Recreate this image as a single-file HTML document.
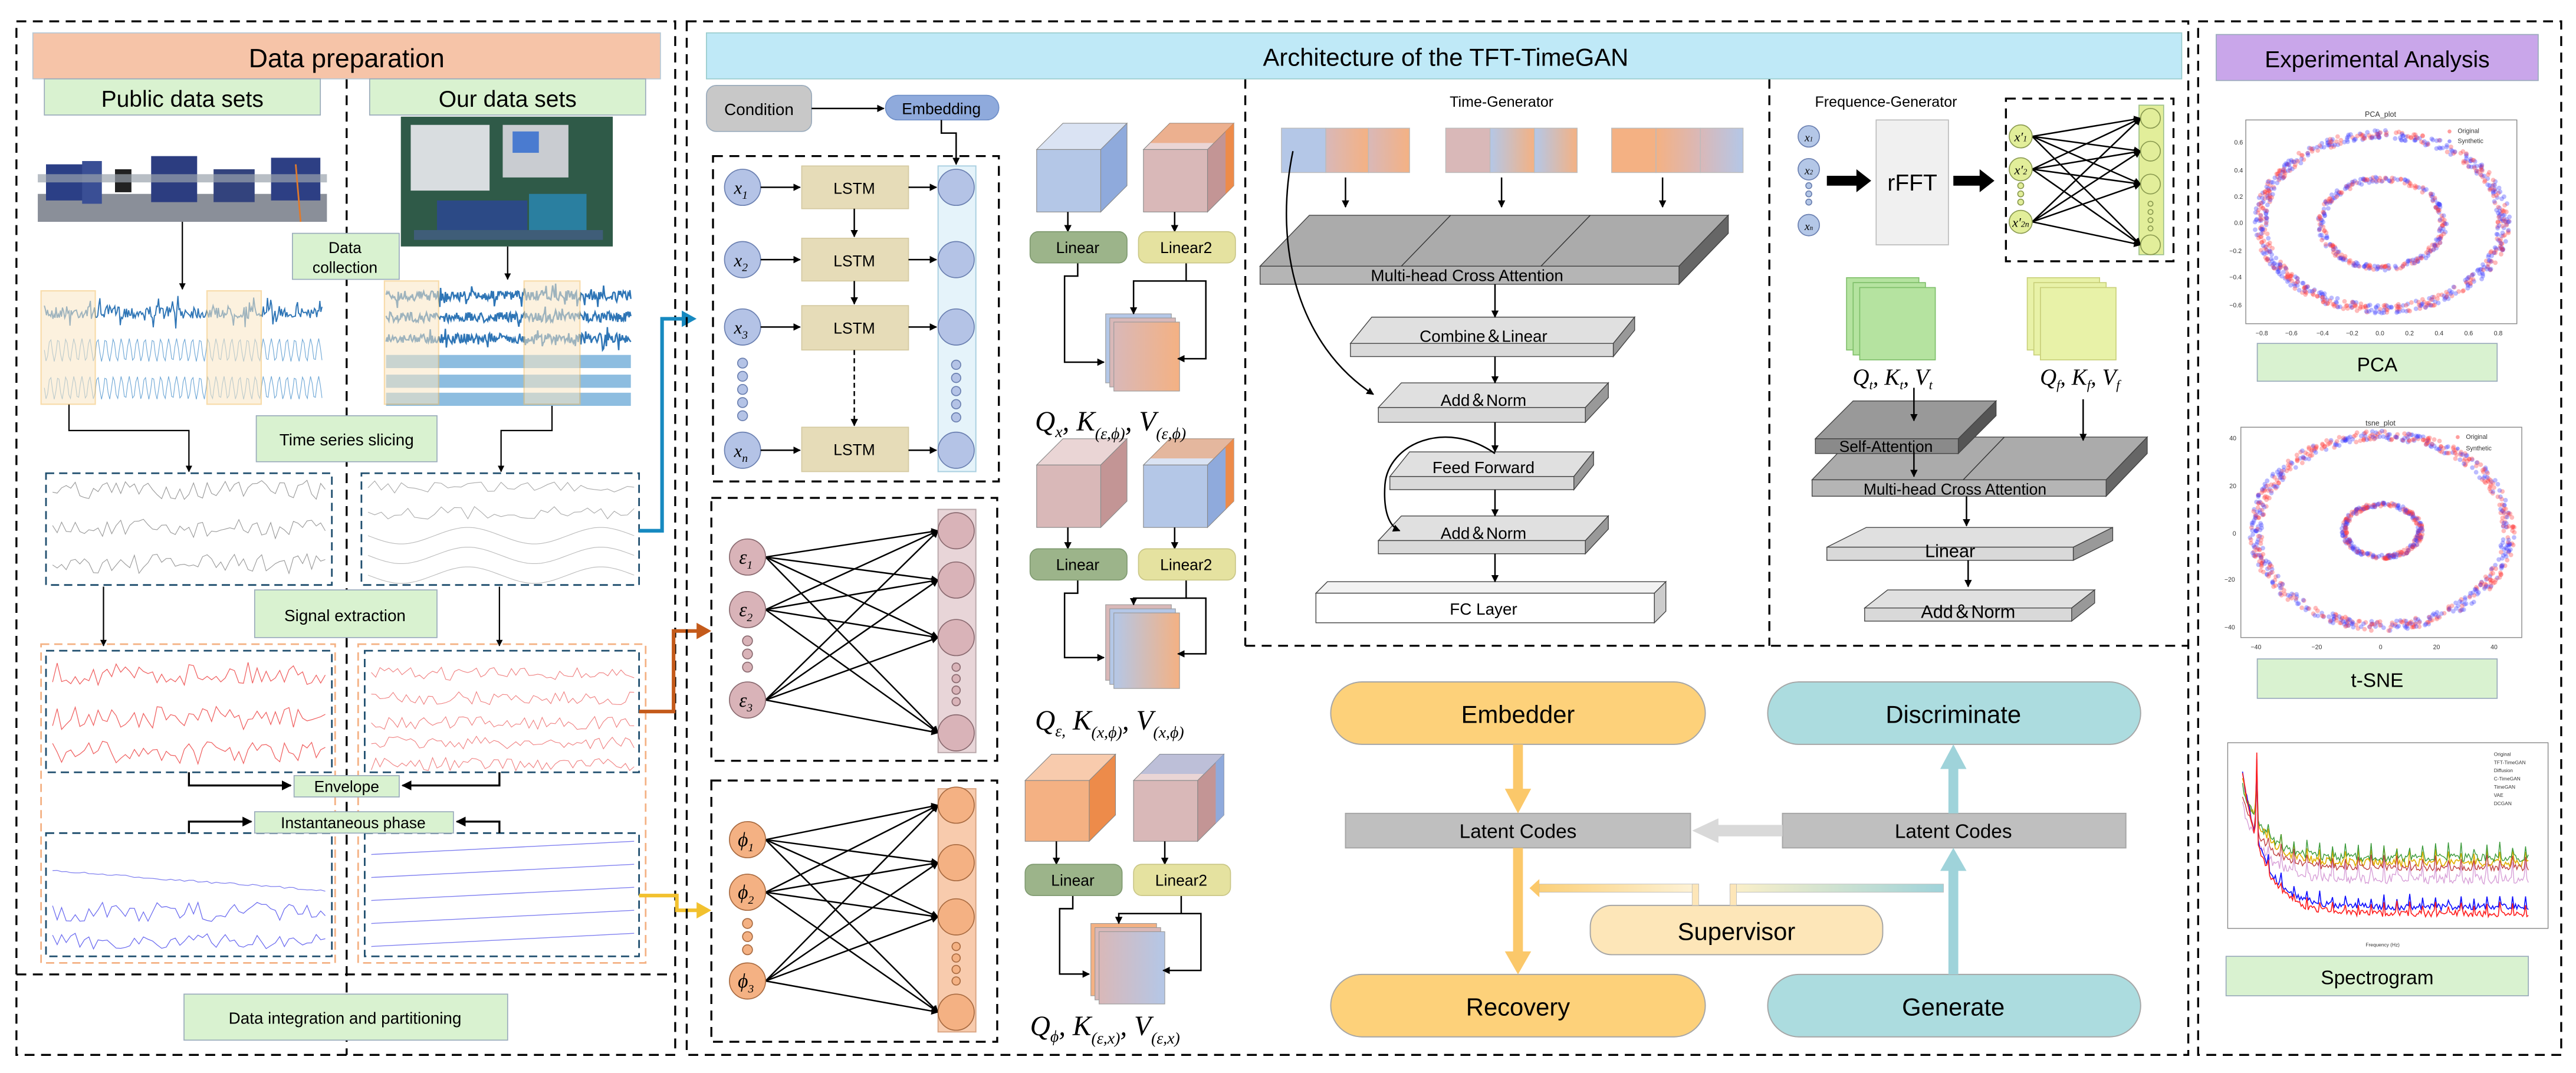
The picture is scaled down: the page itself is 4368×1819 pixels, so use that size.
<!DOCTYPE html>
<html><head><meta charset="utf-8"><style>
html,body{margin:0;padding:0;background:#fff;}
svg{display:block;}
text{font-family:"Liberation Sans",sans-serif;}
.m, .m text, .m tspan, text.m, text.m tspan{font-family:"Liberation Serif",serif;font-style:italic;}
</style></head><body>
<svg id="s" xmlns="http://www.w3.org/2000/svg" width="4368" height="1819" viewBox="0 0 1568 653" preserveAspectRatio="none">
<defs>
<marker id="a" viewBox="0 0 10 10" refX="9" refY="5" markerWidth="5" markerHeight="5" orient="auto-start-reverse"><path d="M0,0L10,5L0,10z" fill="#000"/></marker>
<linearGradient id="g1" x1="0" x2="1"><stop offset="0" stop-color="#d9b8b8"/><stop offset="1" stop-color="#f4b183"/></linearGradient>
<linearGradient id="g2" x1="0" x2="1"><stop offset="0" stop-color="#b4c7e7"/><stop offset="0.5" stop-color="#b4c7e7"/><stop offset="1" stop-color="#f4b183"/></linearGradient>
<linearGradient id="g3" x1="0" x2="1"><stop offset="0" stop-color="#d9b8b8"/><stop offset="1" stop-color="#b4c7e7"/></linearGradient>
<linearGradient id="g4" x1="0" x2="1"><stop offset="0" stop-color="#b4c7e7"/><stop offset="1" stop-color="#f4b183"/></linearGradient>
<linearGradient id="g5" x1="0" x2="1"><stop offset="0" stop-color="#f4b183"/><stop offset="1" stop-color="#d9b8b8"/></linearGradient>
<linearGradient id="g6" x1="0" x2="1"><stop offset="0" stop-color="#fbd07a"/><stop offset="1" stop-color="#fdf3d9"/></linearGradient>
<linearGradient id="g7" x1="0" x2="1"><stop offset="0" stop-color="#fdf0c8"/><stop offset="1" stop-color="#9fd3da"/></linearGradient>
</defs>
<rect width="1568" height="653" fill="#fff"/>

<g fill="none" stroke="#000" stroke-width="1.2" stroke-dasharray="6,4">
<rect x="10" y="13" width="401" height="629"/>
<line x1="211" y1="48" x2="211" y2="642"/>
<line x1="10" y1="593" x2="411" y2="593"/>
</g>
<rect x="20" y="20" width="382" height="28" fill="#f6c4a8" stroke="#b5c8d6" stroke-width="0.6"/>
<text x="211" y="41" font-size="16" text-anchor="middle">Data preparation</text>
<rect x="27" y="48" width="168" height="22" fill="#d9f2d0" stroke="#9ab" stroke-width="0.6"/>
<text x="111" y="65" font-size="14" text-anchor="middle">Public data sets</text>
<rect x="225" y="48" width="168" height="22" fill="#d9f2d0" stroke="#9ab" stroke-width="0.6"/>
<text x="309" y="65" font-size="14" text-anchor="middle">Our data sets</text>

<g>
<rect x="23" y="118" width="176" height="17" fill="#8a8f99"/>
<rect x="28" y="100" width="30" height="22" fill="#2b3f86"/>
<rect x="50" y="98" width="12" height="26" fill="#3a4f95"/>
<rect x="70" y="103" width="10" height="14" fill="#222"/>
<rect x="92" y="95" width="28" height="28" fill="#2c3d80"/>
<rect x="130" y="103" width="25" height="20" fill="#33437d"/>
<rect x="165" y="96" width="30" height="26" fill="#2d3f84"/>
<rect x="23" y="106" width="176" height="5" fill="#9aa3ad" opacity="0.7"/>
<line x1="180" y1="100" x2="183" y2="135" stroke="#e07a2c" stroke-width="1"/>
</g>
<g>
<rect x="244" y="71" width="129" height="79" fill="#2f5a48"/>
<rect x="250" y="76" width="48" height="40" fill="#d9dde0"/>
<rect x="306" y="76" width="40" height="32" fill="#c9ccd1"/>
<rect x="312" y="80" width="16" height="13" fill="#4a7bd0"/>
<rect x="266" y="122" width="55" height="20" fill="#2c4a86"/>
<rect x="322" y="118" width="35" height="26" fill="#2a7fa0"/>
<rect x="252" y="140" width="115" height="6" fill="#3f5d78"/>
</g>
<rect x="178" y="142" width="65" height="28" fill="#d9f2d0" stroke="#9ab" stroke-width="0.6"/>
<text x="210" y="154" font-size="9.5" text-anchor="middle">Data</text>
<text x="210" y="166" font-size="9.5" text-anchor="middle">collection</text>

<g stroke="#000" stroke-width="0.8" fill="none" marker-end="url(#a)">
<line x1="111" y1="135" x2="111" y2="176"/>
<line x1="309" y1="150" x2="309" y2="170"/>
<polyline points="42,246 42,262 115,262 115,287"/>
<polyline points="336,246 336,262 305,262 305,287"/>
<line x1="63" y1="357" x2="63" y2="393"/>
<line x1="304" y1="357" x2="304" y2="393"/>
</g>
<g id="sig1"></g>
<rect x="25" y="177" width="33" height="69" fill="#fbe7c4" opacity="0.55" stroke="#f4c068" stroke-width="0.8"/>
<rect x="126" y="177" width="33" height="69" fill="#fbe7c4" opacity="0.55" stroke="#f4c068" stroke-width="0.8"/>
<rect x="234" y="171" width="33" height="75" fill="#fbe7c4" opacity="0.55" stroke="#f4c068" stroke-width="0.8"/>
<rect x="319" y="171" width="34" height="75" fill="#fbe7c4" opacity="0.55" stroke="#f4c068" stroke-width="0.8"/>

<rect x="156" y="253" width="110" height="28" fill="#d9f2d0" stroke="#9ab" stroke-width="0.6"/>
<text x="211" y="271" font-size="10" text-anchor="middle">Time series slicing</text>

<g fill="none" stroke="#1f4e6e" stroke-width="1" stroke-dasharray="5,3">
<rect x="28" y="288" width="174" height="68"/>
<rect x="220" y="288" width="169" height="68"/>
<rect x="28" y="396" width="174" height="74"/>
<rect x="222" y="396" width="167" height="74"/>
<rect x="28" y="507" width="174" height="75"/>
<rect x="222" y="507" width="167" height="75"/>
</g>
<g fill="none" stroke="#f4b183" stroke-width="1" stroke-dasharray="5,3">
<rect x="25" y="392" width="179" height="194"/>
<rect x="218" y="392" width="175" height="194"/>
</g>
<g id="sig2"></g>

<rect x="155" y="359" width="111" height="29" fill="#d9f2d0" stroke="#9ab" stroke-width="0.6"/>
<text x="210" y="378" font-size="10" text-anchor="middle">Signal extraction</text>
<g stroke="#000" stroke-width="1.2" fill="none" marker-end="url(#a)">
<polyline points="115,470 115,478 177,478"/>
<polyline points="304,470 304,478 245,478"/>
<polyline points="115,507 115,500 153,500"/>
<polyline points="304,507 304,500 278,500"/>
</g>
<rect x="179" y="472" width="64" height="13" fill="#d9f2d0" stroke="#9ab" stroke-width="0.6"/>
<text x="211" y="482" font-size="9.5" text-anchor="middle">Envelope</text>
<rect x="155" y="494" width="121" height="13" fill="#d9f2d0" stroke="#9ab" stroke-width="0.6"/>
<text x="215" y="504" font-size="9.5" text-anchor="middle">Instantaneous phase</text>

<rect x="112" y="605" width="197" height="28" fill="#d9f2d0" stroke="#9ab" stroke-width="0.6"/>
<text x="210" y="623" font-size="10" text-anchor="middle">Data integration and partitioning</text>

<polyline points="389,323 403,323 403,194 417,194" fill="none" stroke="#1689c0" stroke-width="2.2"/>
<path d="M415,189 L424,194 L415,199z" fill="#1689c0"/>
<polyline points="389,433 410,433 410,384 426,384" fill="none" stroke="#c45a1a" stroke-width="2.2"/>
<path d="M424,379 L433,384 L424,389z" fill="#c45a1a"/>
<polyline points="389,545 412,545 412,554 426,554" fill="none" stroke="#f2c12e" stroke-width="2.2"/>
<path d="M424,549 L433,554 L424,559z" fill="#f2c12e"/>

<g fill="none" stroke="#000" stroke-width="1.2" stroke-dasharray="6,4">
<rect x="418" y="13" width="914" height="629"/>
<line x1="758" y1="48" x2="758" y2="393"/>
<line x1="1077" y1="48" x2="1077" y2="393"/>
<line x1="758" y1="393" x2="1332" y2="393"/>
<rect x="434" y="95" width="174" height="198"/>
<rect x="433" y="303" width="174" height="160"/>
<rect x="433" y="475" width="174" height="159"/>
<rect x="1221" y="60" width="102" height="99"/>
</g>
<rect x="430" y="20" width="898" height="28" fill="#bfe9f7" stroke="#9cc" stroke-width="0.6"/>
<text x="880" y="40" font-size="15" text-anchor="middle">Architecture of the TFT-TimeGAN</text>

<rect x="430" y="52" width="64" height="28" rx="6" fill="#c8c8c8" stroke="#9ab" stroke-width="0.6"/>
<text x="462" y="70" font-size="10" text-anchor="middle">Condition</text>
<rect x="539" y="58" width="69" height="15" rx="7.5" fill="#8faadc" stroke="#6f8fc8" stroke-width="0.6"/>
<text x="573" y="69.5" font-size="9.5" text-anchor="middle">Embedding</text>
<g stroke="#000" stroke-width="0.9" fill="none" marker-end="url(#a)">
<line x1="494" y1="66" x2="538" y2="66"/>
<polyline points="573,73 573,81 582,81 582,100"/>
</g>

<rect x="571" y="101" width="23" height="186" fill="#e5f3fa" stroke="#a9cfe0" stroke-width="0.7"/>
<g fill="#b4c3e6" stroke="#6a7fb0" stroke-width="0.6">
<circle cx="582" cy="114" r="11"/><circle cx="582" cy="158" r="11"/><circle cx="582" cy="199" r="11"/><circle cx="582" cy="274" r="11"/>
<circle cx="452" cy="114" r="11"/><circle cx="452" cy="158" r="11"/><circle cx="452" cy="199" r="11"/><circle cx="452" cy="274" r="11"/>
<circle cx="452" cy="221" r="3"/><circle cx="452" cy="229" r="3"/><circle cx="452" cy="237" r="3"/><circle cx="452" cy="245" r="3"/><circle cx="452" cy="253" r="3"/>
<circle cx="582" cy="222" r="2.8"/><circle cx="582" cy="230" r="2.8"/><circle cx="582" cy="238" r="2.8"/><circle cx="582" cy="246" r="2.8"/><circle cx="582" cy="254" r="2.8"/>
</g>
<g font-size="11" class="m" text-anchor="middle">
<text x="451" y="118" class="m">x<tspan font-size="7" dy="3">1</tspan></text>
<text x="451" y="162" class="m">x<tspan font-size="7" dy="3">2</tspan></text>
<text x="451" y="203" class="m">x<tspan font-size="7" dy="3">3</tspan></text>
<text x="451" y="278" class="m">x<tspan font-size="7" dy="3">n</tspan></text>
</g>
<g fill="#e6dcb8" stroke="#d4c9a0" stroke-width="0.6">
<rect x="488" y="101" width="65" height="26"/><rect x="488" y="145" width="65" height="26"/><rect x="488" y="186" width="65" height="27"/><rect x="488" y="260" width="65" height="27"/>
</g>
<g font-size="9.5" text-anchor="middle">
<text x="520" y="118">LSTM</text><text x="520" y="162">LSTM</text><text x="520" y="203">LSTM</text><text x="520" y="277">LSTM</text>
</g>
<g stroke="#000" stroke-width="0.9" fill="none" marker-end="url(#a)">
<line x1="463" y1="114" x2="487" y2="114"/><line x1="463" y1="158" x2="487" y2="158"/><line x1="463" y1="199" x2="487" y2="199"/><line x1="463" y1="274" x2="487" y2="274"/>
<line x1="553" y1="114" x2="570" y2="114"/><line x1="553" y1="158" x2="570" y2="158"/><line x1="553" y1="199" x2="570" y2="199"/><line x1="553" y1="274" x2="570" y2="274"/>
<line x1="520" y1="127" x2="520" y2="144"/><line x1="520" y1="171" x2="520" y2="185"/>
<line x1="520" y1="213" x2="520" y2="259" stroke-dasharray="3,2"/>
</g>

<rect x="571" y="310" width="23" height="148" fill="#e8d5d8" stroke="#b9a8ab" stroke-width="0.7"/>
<rect x="571" y="480" width="23" height="148" fill="#f8cbad" stroke="#d9a583" stroke-width="0.7"/>
<g id="nn"></g>
<g fill="#d9b3b8" stroke="#8a6a70" stroke-width="0.6">
<circle cx="455" cy="339" r="11"/><circle cx="455" cy="371" r="11"/><circle cx="455" cy="426" r="11"/>
<circle cx="455" cy="390" r="3"/><circle cx="455" cy="398" r="3"/><circle cx="455" cy="406" r="3"/>
<circle cx="582" cy="323" r="11"/><circle cx="582" cy="353" r="11"/><circle cx="582" cy="388" r="11"/><circle cx="582" cy="446" r="11"/>
<circle cx="582" cy="406" r="2.5"/><circle cx="582" cy="413" r="2.5"/><circle cx="582" cy="420" r="2.5"/><circle cx="582" cy="427" r="2.5"/>
</g>
<g fill="#f4b183" stroke="#a86a40" stroke-width="0.6">
<circle cx="455" cy="511" r="11"/><circle cx="455" cy="543" r="11"/><circle cx="455" cy="597" r="11"/>
<circle cx="455" cy="562" r="3"/><circle cx="455" cy="570" r="3"/><circle cx="455" cy="578" r="3"/>
<circle cx="582" cy="490" r="11"/><circle cx="582" cy="525" r="11"/><circle cx="582" cy="558" r="11"/><circle cx="582" cy="616" r="11"/>
<circle cx="582" cy="576" r="2.5"/><circle cx="582" cy="583" r="2.5"/><circle cx="582" cy="590" r="2.5"/><circle cx="582" cy="597" r="2.5"/>
</g>
<g font-size="12" text-anchor="middle" class="m">
<text x="454" y="343" class="m">ε<tspan font-size="7" dy="3">1</tspan></text>
<text x="454" y="375" class="m">ε<tspan font-size="7" dy="3">2</tspan></text>
<text x="454" y="430" class="m">ε<tspan font-size="7" dy="3">3</tspan></text>
<text x="454" y="515" class="m">ϕ<tspan font-size="7" dy="3">1</tspan></text>
<text x="454" y="547" class="m">ϕ<tspan font-size="7" dy="3">2</tspan></text>
<text x="454" y="601" class="m">ϕ<tspan font-size="7" dy="3">3</tspan></text>
</g>

<g id="cubes"></g>
<g font-size="9.5" text-anchor="middle">
<rect x="627" y="141" width="59" height="19" rx="5" fill="#9cb48a" stroke="#7f9a70" stroke-width="0.6"/><text x="656" y="154">Linear</text>
<rect x="693" y="141" width="59" height="19" rx="5" fill="#e5e2a0" stroke="#c9c686" stroke-width="0.6"/><text x="722" y="154">Linear2</text>
<rect x="627" y="334" width="59" height="19" rx="5" fill="#9cb48a" stroke="#7f9a70" stroke-width="0.6"/><text x="656" y="347">Linear</text>
<rect x="693" y="334" width="59" height="19" rx="5" fill="#e5e2a0" stroke="#c9c686" stroke-width="0.6"/><text x="722" y="347">Linear2</text>
<rect x="624" y="526" width="59" height="19" rx="5" fill="#9cb48a" stroke="#7f9a70" stroke-width="0.6"/><text x="653" y="539">Linear</text>
<rect x="690" y="526" width="59" height="19" rx="5" fill="#e5e2a0" stroke="#c9c686" stroke-width="0.6"/><text x="719" y="539">Linear2</text>
</g>
<g font-size="17" class="m">
<text x="630" y="262" class="m">Q<tspan font-size="10" dy="4">x</tspan><tspan dy="-4">, K</tspan><tspan font-size="10" dy="5">(ε,ϕ)</tspan><tspan dy="-5">, V</tspan><tspan font-size="10" dy="5">(ε,ϕ)</tspan></text>
<text x="630" y="444" class="m">Q<tspan font-size="10" dy="4">ε,</tspan><tspan dy="-4"> K</tspan><tspan font-size="10" dy="5">(x,ϕ)</tspan><tspan dy="-5">, V</tspan><tspan font-size="10" dy="5">(x,ϕ)</tspan></text>
<text x="627" y="630" class="m">Q<tspan font-size="10" dy="4">ϕ</tspan><tspan dy="-4">, K</tspan><tspan font-size="10" dy="5">(ε,x)</tspan><tspan dy="-5">, V</tspan><tspan font-size="10" dy="5">(ε,x)</tspan></text>
</g>

<text x="914" y="65" font-size="9" text-anchor="middle">Time-Generator</text>
<g stroke="#bbb" stroke-width="0.5">
<rect x="780" y="78" width="27" height="27" fill="#b4c7e7"/><rect x="807" y="78" width="26" height="27" fill="url(#g1)"/><rect x="833" y="78" width="25" height="27" fill="url(#g1)"/>
<rect x="880" y="78" width="27" height="27" fill="#d9b8b8"/><rect x="907" y="78" width="27" height="27" fill="url(#g4)"/><rect x="934" y="78" width="26" height="27" fill="url(#g4)"/>
<rect x="981" y="78" width="27" height="27" fill="#f4b183"/><rect x="1008" y="78" width="27" height="27" fill="url(#g5)"/><rect x="1035" y="78" width="26" height="27" fill="url(#g3)"/>
</g>
<g id="slabs"></g>
<g stroke="#000" stroke-width="0.9" fill="none" marker-end="url(#a)">
<line x1="819" y1="108" x2="819" y2="126"/><line x1="914" y1="108" x2="914" y2="126"/><line x1="1012" y1="108" x2="1012" y2="126"/>
<line x1="910" y1="173" x2="910" y2="193"/>
<line x1="910" y1="217" x2="910" y2="233"/>
<line x1="910" y1="257" x2="910" y2="275"/>
<line x1="910" y1="298" x2="910" y2="314"/>
<line x1="910" y1="337" x2="910" y2="354"/>
<path d="M787,92 C775,150 790,210 836,240"/>
<path d="M910,276 C880,255 845,270 843,295 C842,310 845,320 852,323"/>
</g>
<g font-size="10" text-anchor="middle">
<text x="893" y="171">Multi-head Cross Attention</text>
<text x="903" y="208">Combine＆Linear</text>
<text x="903" y="247">Add＆Norm</text>
<text x="903" y="288">Feed Forward</text>
<text x="903" y="328">Add＆Norm</text>
<text x="903" y="374">FC Layer</text>
</g>

<text x="1148" y="65" font-size="9" text-anchor="middle">Frequence-Generator</text>
<g fill="#b4c7e7" stroke="#6a7fb0" stroke-width="0.6">
<circle cx="1101" cy="83" r="6.5"/><circle cx="1101" cy="103" r="6.5"/><circle cx="1101" cy="137" r="6.5"/>
<circle cx="1101" cy="113" r="1.8"/><circle cx="1101" cy="118" r="1.8"/><circle cx="1101" cy="123" r="1.8"/>
</g>
<g font-size="7" class="m" text-anchor="middle">
<text x="1101" y="86" class="m">x<tspan font-size="4">1</tspan></text><text x="1101" y="106" class="m">x<tspan font-size="4">2</tspan></text><text x="1101" y="140" class="m">x<tspan font-size="4">n</tspan></text>
</g>
<rect x="1142" y="73" width="44" height="76" fill="#f0f0f0" stroke="#bbb" stroke-width="0.6"/>
<text x="1164" y="116" font-size="14" text-anchor="middle">rFFT</text>
<path d="M1112,107 L1130,107 L1130,103 L1139,110 L1130,117 L1130,113 L1112,113z" fill="#000"/>
<path d="M1189,107 L1205,107 L1205,103 L1214,110 L1205,117 L1205,113 L1189,113z" fill="#000"/>
<rect x="1302" y="64" width="15" height="91" fill="#e2ee9a" stroke="#9cbf8a" stroke-width="0.6"/>
<g id="fnn"></g>
<g fill="#e2ee9a" stroke="#8a9a50" stroke-width="0.6">
<circle cx="1230" cy="83" r="7"/><circle cx="1230" cy="103" r="7"/><circle cx="1230" cy="135" r="7"/>
<circle cx="1230" cy="113" r="1.8"/><circle cx="1230" cy="118" r="1.8"/><circle cx="1230" cy="123" r="1.8"/>
<circle cx="1309" cy="72" r="6"/><circle cx="1309" cy="92" r="6"/><circle cx="1309" cy="112" r="6"/><circle cx="1309" cy="149" r="6"/>
<circle cx="1309" cy="124" r="1.5"/><circle cx="1309" cy="129" r="1.5"/><circle cx="1309" cy="134" r="1.5"/><circle cx="1309" cy="139" r="1.5"/>
</g>
<g font-size="8" class="m" text-anchor="middle">
<text x="1230" y="86" class="m">x′<tspan font-size="5">1</tspan></text><text x="1230" y="106" class="m">x′<tspan font-size="5">2</tspan></text><text x="1230" y="138" class="m">x′<tspan font-size="5">2n</tspan></text>
</g>
<g stroke="#7fbf6a" stroke-width="0.6" fill="#b5e3a0">
<rect x="1124" y="169" width="44" height="44"/><rect x="1128" y="172" width="44" height="44"/><rect x="1132" y="175" width="46" height="44"/>
</g>
<g stroke="#c9d07a" stroke-width="0.6" fill="#e8f2a8">
<rect x="1234" y="169" width="44" height="44"/><rect x="1238" y="172" width="44" height="44"/><rect x="1242" y="175" width="46" height="44"/>
</g>
<g font-size="14" class="m" text-anchor="middle">
<text x="1152" y="234" class="m">Q<tspan font-size="8" dy="3">t</tspan><tspan dy="-3">, K</tspan><tspan font-size="8" dy="3">t</tspan><tspan dy="-3">, V</tspan><tspan font-size="8" dy="3">t</tspan></text>
<text x="1266" y="234" class="m">Q<tspan font-size="8" dy="3">f</tspan><tspan dy="-3">, K</tspan><tspan font-size="8" dy="3">f</tspan><tspan dy="-3">, V</tspan><tspan font-size="8" dy="3">f</tspan></text>
</g>
<g stroke="#000" stroke-width="0.9" fill="none" marker-end="url(#a)">
<line x1="1165" y1="236" x2="1165" y2="256"/>
<line x1="1268" y1="243" x2="1268" y2="268"/>
<line x1="1165" y1="275" x2="1165" y2="290"/>
<line x1="1197" y1="302" x2="1197" y2="320"/>
<line x1="1198" y1="341" x2="1198" y2="357"/>
</g>
<g font-size="9.5" text-anchor="middle">
<text x="1148" y="275">Self-Attention</text>
<text x="1190" y="301">Multi-head Cross Attention</text>
<text x="1187" y="339" font-size="11">Linear</text>
<text x="1198" y="376" font-size="11">Add＆Norm</text>
</g>

<g stroke="#a6a6a6" stroke-width="0.7">
<rect x="810" y="415" width="228" height="38" rx="19" fill="#fdd17a"/>
<rect x="1076" y="415" width="227" height="38" rx="19" fill="#acdcdf"/>
<rect x="810" y="593" width="228" height="38" rx="19" fill="#fdd17a"/>
<rect x="1076" y="593" width="227" height="38" rx="19" fill="#acdcdf"/>
<rect x="968" y="551" width="178" height="30" rx="13" fill="#fde6b8"/>
<rect x="819" y="495" width="210" height="21" fill="#bfbfbf"/>
<rect x="1085" y="495" width="209" height="21" fill="#bfbfbf"/>
</g>
<rect x="921" y="453" width="6" height="30" fill="#fbc86a"/><path d="M916,480 L932,480 L924,495z" fill="#fbc86a"/>
<rect x="921" y="516" width="6" height="66" fill="#fbc86a"/><path d="M916,579 L932,579 L924,593z" fill="#fbc86a"/>
<rect x="1186" y="466" width="6" height="29" fill="#9fd3da"/><path d="M1181,468 L1197,468 L1189,453z" fill="#9fd3da"/>
<rect x="1186" y="528" width="6" height="65" fill="#9fd3da"/><path d="M1181,530 L1197,530 L1189,516z" fill="#9fd3da"/>
<path d="M1085,502 L1046,502 L1046,498 L1030,505.5 L1046,513 L1046,509 L1085,509z" fill="#d9d9d9"/>
<rect x="1053" y="538" width="130" height="5" fill="url(#g7)" stroke="#bbb" stroke-width="0.3"/>
<rect x="1053" y="538" width="4" height="13" fill="#fde6b8" stroke="#bbb" stroke-width="0.3"/>
<rect x="937" y="538" width="97" height="5" fill="url(#g6)" stroke="#bbb" stroke-width="0.3"/>
<rect x="1030" y="538" width="4" height="13" fill="#fde6b8" stroke="#bbb" stroke-width="0.3"/>
<path d="M937,535 L931,540.5 L937,546z" fill="#fbc86a"/>
<g text-anchor="middle">
<text x="924" y="440" font-size="15">Embedder</text>
<text x="1189" y="440" font-size="15">Discriminate</text>
<text x="924" y="618" font-size="15">Recovery</text>
<text x="1189" y="618" font-size="15">Generate</text>
<text x="1057" y="572" font-size="15">Supervisor</text>
<text x="924" y="510" font-size="12">Latent Codes</text>
<text x="1189" y="510" font-size="12">Latent Codes</text>
</g>

<rect x="1338" y="13" width="221" height="629" fill="none" stroke="#000" stroke-width="1.2" stroke-dasharray="6,4"/>
<rect x="1349" y="21" width="196" height="28" fill="#c9a6ea" stroke="#9ab" stroke-width="0.6"/>
<text x="1447" y="41" font-size="14" text-anchor="middle">Experimental Analysis</text>
<g font-size="3.5" fill="#333">
<text x="1449" y="71" text-anchor="middle" font-size="4.5">PCA_plot</text>
<text x="1449" y="259" text-anchor="middle" font-size="4.5">tsne_plot</text>
</g>
<rect x="1367" y="73" width="165" height="124" fill="#fff" stroke="#888" stroke-width="0.5"/>
<rect x="1364" y="260" width="171" height="128" fill="#fff" stroke="#888" stroke-width="0.5"/>
<g id="sc"></g>
<g font-size="3.8" fill="#333">
<text x="1496" y="81">Original</text><text x="1496" y="87">Synthetic</text>
<text x="1501" y="267">Original</text><text x="1501" y="274">Synthetic</text>
<text x="1360" y="88">0.6</text><text x="1360" y="105">0.4</text><text x="1360" y="121">0.2</text><text x="1360" y="137">0.0</text><text x="1357" y="154">−0.2</text><text x="1357" y="170">−0.4</text><text x="1357" y="187">−0.6</text>
<text x="1373" y="204">−0.8</text><text x="1391" y="204">−0.6</text><text x="1410" y="204">−0.4</text><text x="1428" y="204">−0.2</text><text x="1446" y="204">0.0</text><text x="1464" y="204">0.2</text><text x="1482" y="204">0.4</text><text x="1500" y="204">0.6</text><text x="1518" y="204">0.8</text>
<text x="1357" y="268">40</text><text x="1357" y="297">20</text><text x="1359" y="326">0</text><text x="1354" y="354">−20</text><text x="1354" y="383">−40</text>
<text x="1370" y="395">−40</text><text x="1407" y="395">−20</text><text x="1448" y="395">0</text><text x="1481" y="395">20</text><text x="1516" y="395">40</text>
</g>
<rect x="1374" y="209" width="146" height="23" fill="#d9f2d0" stroke="#9ab" stroke-width="0.6"/>
<text x="1447" y="226" font-size="12" text-anchor="middle">PCA</text>
<rect x="1374" y="401" width="146" height="24" fill="#d9f2d0" stroke="#9ab" stroke-width="0.6"/>
<text x="1447" y="418" font-size="12" text-anchor="middle">t-SNE</text>
<rect x="1356" y="452" width="195" height="113" fill="#fff" stroke="#888" stroke-width="0.5"/>
<g id="spec"></g>
<g font-size="3" fill="#333">
<text x="1518" y="460">Original</text><text x="1518" y="465">TFT-TimeGAN</text><text x="1518" y="470">Diffusion</text><text x="1518" y="475">C-TimeGAN</text><text x="1518" y="480">TimeGAN</text><text x="1518" y="485">VAE</text><text x="1518" y="490">DCGAN</text>
<text x="1440" y="576">Frequency (Hz)</text>
</g>
<rect x="1355" y="582" width="184" height="24" fill="#d9f2d0" stroke="#9ab" stroke-width="0.6"/>
<text x="1447" y="599" font-size="12" text-anchor="middle">Spectrogram</text>
</svg>
<script>
(function(){
var NS="http://www.w3.org/2000/svg";
function el(p,tag,at){var e=document.createElementNS(NS,tag);for(var k in at)e.setAttribute(k,at[k]);p.appendChild(e);return e;}
var seed=7;function r(){seed=(seed*16807)%2147483647;return seed/2147483647;}
function wave(g,x0,x1,y,amp,col,n,type,sw){var pts=[];for(var i=0;i<=n;i++){var x=x0+(x1-x0)*i/n,v;
 if(type==0)v=(r()-0.5)*2*amp*(r()<0.1?2.5:1);
 else if(type==1)v=Math.sin(i*1.3)*amp;
 else if(type==2)v=Math.sin(i/n*Math.PI*4)*amp;
 else if(type==3)v=-i/n*amp+(r()-0.5)*1.2;
 else v=(r()-0.5)*2*amp;
 pts.push(x.toFixed(1)+","+(y+v).toFixed(1));}
 el(g,"polyline",{points:pts.join(" "),fill:"none",stroke:col,"stroke-width":sw||0.5});}
var g1=document.getElementById("sig1");
wave(g1,27,196,190,4,"#2e75b6",260,0,0.7);
wave(g1,27,196,213,7,"#6ea7d6",170,1,0.4);
wave(g1,27,196,236,7,"#6ea7d6",170,1,0.4);
[180,193,206].forEach(function(y){wave(g1,235,384,y,3,"#2e75b6",260,0,0.9);});
[220,232,243].forEach(function(y){el(g1,"rect",{x:235,y:y-4,width:149,height:8,fill:"#8dbde0"});});
var g2=document.getElementById("sig2");
[298,322,343].forEach(function(y){wave(g2,32,198,y,6,"#999",60,4,0.4);});
wave(g2,224,386,296,4,"#aaa",40,4,0.4);wave(g2,224,386,312,4,"#aaa",40,4,0.4);
[326,338,350].forEach(function(y){wave(g2,224,386,y,5,"#bbb",60,2,0.4);});
[410,437,458].forEach(function(y){wave(g2,32,198,y,7,"#f06060",60,4,0.45);});
[410,425,440,452,465].forEach(function(y){wave(g2,226,386,y,4,"#f08080",60,4,0.4);});
wave(g2,32,198,530,-12,"#8080f0",60,3,0.45);wave(g2,32,198,555,6,"#6a6af0",60,4,0.45);wave(g2,32,198,573,5,"#6a6af0",60,4,0.45);
[520,534,548,562,576].forEach(function(y){el(g2,"line",{x1:226,y1:y,x2:386,y2:y-8,stroke:"#8080f0","stroke-width":0.5});});
var nn=document.getElementById("nn");
function net(g,L,R,xl,xr){L.forEach(function(a){R.forEach(function(b){el(g,"line",{x1:xl,y1:a,x2:xr,y2:b,stroke:"#000","stroke-width":0.9,"marker-end":"url(#a)"});});});}
net(nn,[339,371,426],[323,353,388,446],466,571);
net(nn,[511,543,597],[490,525,558,616],466,571);
net(document.getElementById("fnn"),[83,103,135],[72,92,112,149],1237,1303);
var cg=document.getElementById("cubes");
function cube(x,y,w,h,d,f,t,s,extra){
 el(cg,"polygon",{points:[x,y,x+d,y-d,x+w+d,y-d,x+w,y].join(","),fill:t,stroke:"#888","stroke-width":0.4});
 el(cg,"polygon",{points:[x+w,y,x+w+d,y-d,x+w+d,y+h-d,x+w,y+h].join(","),fill:s,stroke:"#888","stroke-width":0.4});
 el(cg,"rect",{x:x,y:y,width:w,height:h,fill:f,stroke:"#888","stroke-width":0.4});
 if(extra){el(cg,"polygon",{points:[x+w+d-5,y-d+5,x+w+d,y-d,x+w+d,y+h-d,x+w+d-5,y+h-d+5].join(","),fill:extra});
  el(cg,"polygon",{points:[x+4,y-4,x+d,y-d,x+w+d,y-d,x+w+4,y-4].join(","),fill:extra,opacity:0.5});}
}
cube(631,91,39,38,16,"#b4c7e7","#dae3f3","#8faadc");
cube(696,91,39,38,16,"#d9b8b8","#ead5d5","#c39595","#ed8b4a");
cube(631,283,39,38,16,"#d9b8b8","#ead5d5","#c39595");
cube(696,283,39,38,16,"#b4c7e7","#dae3f3","#8faadc","#ed8b4a");
cube(624,475,39,37,16,"#f4b183","#f8cbad","#ed8b4a");
cube(690,475,39,37,16,"#d9b8b8","#ead5d5","#c39595","#8faadc");
function stack(x,y,w,h,fills){for(var i=0;i<3;i++)el(cg,"rect",{x:x+i*2.5,y:y+i*2.5,width:w,height:h,fill:fills[i],stroke:"#999","stroke-width":0.4});}
stack(673,191,40,42,["#b4c7e7","#d9b8b8","url(#g1)"]);
stack(673,368,40,46,["#d9b8b8","#b4c7e7","url(#g4)"]);
stack(664,562,40,44,["#f4b183","#d9b8b8","url(#g3)"]);
function conn(lx,l2x,ly,sy,stx,sty,sw,sh){
 el(cg,"polyline",{points:[lx,ly,lx,ly+8,lx-8,ly+8,lx-8,sty+sh*0.7,stx,sty+sh*0.7].join(","),fill:"none",stroke:"#000","stroke-width":0.9,"marker-end":"url(#a)"});
 el(cg,"polyline",{points:[l2x,ly,l2x,ly+11,stx+sw*0.45,ly+11,stx+sw*0.45,sty].join(","),fill:"none",stroke:"#000","stroke-width":0.9,"marker-end":"url(#a)"});
 el(cg,"polyline",{points:[l2x,ly+11,l2x+12,ly+11,l2x+12,sty+sh*0.65,stx+sw+5,sty+sh*0.65].join(","),fill:"none",stroke:"#000","stroke-width":0.9,"marker-end":"url(#a)"});
}
conn(656,722,160,0,672,191,40,42);
conn(656,722,353,0,672,368,40,46);
conn(653,719,545,0,663,562,40,44);
[[650,129,141],[715,129,141],[650,321,334],[715,321,334],[643,512,526],[709,512,526]].forEach(function(a){el(cg,"line",{x1:a[0],y1:a[1],x2:a[0],y2:a[2],stroke:"#000","stroke-width":0.9,"marker-end":"url(#a)"});});
var sg=document.getElementById("slabs");
function slab(x,y,w,h,dx,dy,top,front,side){
 el(sg,"polygon",{points:[x,y,x+dx,y-dy,x+w+dx,y-dy,x+w,y].join(","),fill:top,stroke:"#444","stroke-width":0.5});
 el(sg,"polygon",{points:[x+w,y,x+w+dx,y-dy,x+w+dx,y-dy+h,x+w,y+h].join(","),fill:side,stroke:"#444","stroke-width":0.5});
 el(sg,"rect",{x:x,y:y,width:w,height:h,fill:front,stroke:"#444","stroke-width":0.5});}
slab(767,162,255,11,30,31,"#ababab","#b5b5b5","#666");
el(sg,"line",{x1:853,y1:162,x2:883,y2:131,stroke:"#333","stroke-width":0.5});
el(sg,"line",{x1:938,y1:162,x2:968,y2:131,stroke:"#333","stroke-width":0.5});
slab(822,209,160,8,13,16,"#e0e0e0","#d9d9d9","#999");
slab(839,248,126,9,14,15,"#e0e0e0","#d9d9d9","#999");
slab(846,290,112,8,12,15,"#e0e0e0","#d9d9d9","#999");
slab(839,329,126,8,14,15,"#e0e0e0","#d9d9d9","#999");
slab(801,361,206,18,7,7,"#f2f2f2","#fff","#ccc");
slab(1103,292,179,10,25,26,"#ababab","#b5b5b5","#666");
el(sg,"line",{x1:1195,y1:292,x2:1220,y2:266,stroke:"#333","stroke-width":0.5});
slab(1105,267,87,9,23,23,"#999","#8a8a8a","#555");
slab(1112,333,150,8,24,12,"#e0e0e0","#d9d9d9","#999");
slab(1135,370,126,8,14,11,"#e0e0e0","#d9d9d9","#999");
var sc=document.getElementById("sc");
function ring(cx,cy,rx,ry,n,jit){for(var i=0;i<n;i++){var t=r()*Math.PI*2,j=1+(r()-0.5)*jit;var c=r()<0.5?"rgba(255,60,60,0.35)":"rgba(60,60,255,0.35)";
 el(sc,"circle",{cx:(cx+Math.cos(t)*rx*j).toFixed(1),cy:(cy+Math.sin(t)*ry*j).toFixed(1),r:1.4,fill:c});}}
ring(1450,135,74,53,700,0.1);ring(1450,136,37,27,300,0.12);
ring(1450,323,77,58,700,0.1);ring(1450,323,23,16,300,0.15);
el(sc,"circle",{cx:1491,cy:80,r:1.2,fill:"rgba(255,60,60,0.5)"});el(sc,"circle",{cx:1491,cy:86,r:1.2,fill:"rgba(60,60,255,0.5)"});
el(sc,"circle",{cx:1496,cy:266,r:1.2,fill:"rgba(255,60,60,0.5)"});el(sc,"circle",{cx:1496,cy:273,r:1.2,fill:"rgba(60,60,255,0.5)"});
var sp=document.getElementById("spec");
function spec(col,base,floor,noise,peak,sw){var pts=[];for(var i=0;i<=200;i++){var x=1365+i*0.87;var d=Math.exp(-i/15);var y=floor-(floor-base)*d+(r()-0.5)*noise;if(i==10)y=peak;if(i>6&&i%9==0)y-=noise*1.5;pts.push(x.toFixed(1)+","+y.toFixed(1));}
 el(sp,"polyline",{points:pts.join(" "),fill:"none",stroke:col,"stroke-width":sw});}
spec("#e0b000",475,525,5,470,0.6);spec("#3a9a3a",478,522,5,468,0.5);spec("#d8a0d8",490,535,6,480,0.5);spec("#c04040",485,528,4,478,0.5);
spec("#1010ff",470,552,4,462,0.6);spec("#ff2020",470,556,4,458,0.6);
})();
</script>
</body></html>
